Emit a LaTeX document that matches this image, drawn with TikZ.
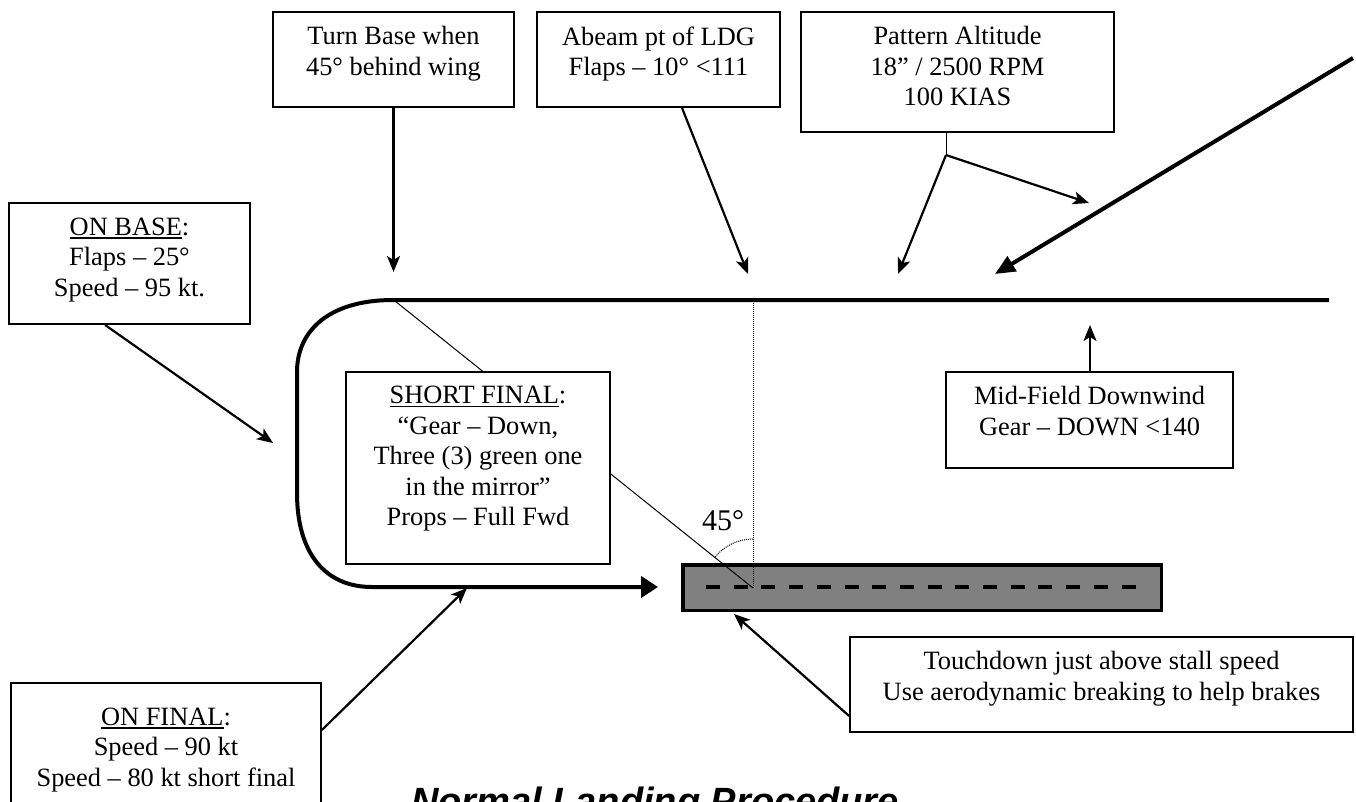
\documentclass[tikz,border=0pt]{standalone}
\usepackage{fontspec}
\setmainfont{Liberation Serif}
\newfontfamily\titlefont{Liberation Sans}
\usetikzlibrary{arrows.meta}
\definecolor{rwgray}{RGB}{128,128,128}
\newcommand\myul[1]{\setbox0\hbox{#1}\rlap{\rule[-3.5pt]{\wd0}{1.8pt}}\box0}
\tikzset{
  lbl/.style={draw, line width=1.8pt, fill=white, align=center, inner sep=0pt,
    font=\fontsize{26.4}{30.4}\selectfont,
    execute at begin node={\rule{0pt}{22pt}},
    execute at end node={\rule[-#1pt]{0pt}{0pt}}},
  conn/.style={line width=2.2pt, -{Stealth[length=16pt,width=13pt,inset=4pt]}},
  thin/.style={line width=1pt},
  dotln/.style={line width=1pt, dash pattern=on 1pt off 1pt},
  pathln/.style={line width=4pt, line join=round}
}
\begin{document}
\begin{tikzpicture}[x=1pt,y=-1pt]
\useasboundingbox (0,0) rectangle (1356,801);
\clip (0,0) rectangle (1356,801);
\fill[white] (0,0) rectangle (1356,801);

% runway
\node[draw, line width=3.5pt, fill=rwgray, minimum width=478.5pt, minimum height=45.5pt, inner sep=0pt] (rw) at (922,587.5) {};
\coordinate (rwd1) at (706,587);
\coordinate (rwd2) at (1137,587);
\draw[line width=4pt, dash pattern=on 14pt off 13.7pt] (rwd1) -- (rwd2);

% traffic pattern
\coordinate (dwE) at (1329,300);
\coordinate (dwW) at (393,300);
\coordinate (fT) at (658,587);
\draw[pathln, -{Triangle[length=17pt,width=21pt]}] (dwE) -- (dwW)
  .. controls (330,300) and (297,330) .. (297,372) -- (297,493)
  .. controls (297,553) and (325,587) .. (372,587) -- (fT);

% 45 degree geometry
\coordinate (tb) at (395,301);
\coordinate (tc) at (753,588);
\coordinate (ab) at (753,300);
\draw[thin] (tb) -- (tc);
\draw[dotln] (tc) -- (ab);
\draw[dotln] ([yshift=49pt]tc) arc[start angle=90, end angle=141.4, radius=49pt];
\node[anchor=base, inner sep=0pt, font=\fontsize{30}{34}\selectfont] (ang) at (723,530) {45°};

% boxes
\node[lbl=17, minimum width=241pt, minimum height=95pt] (turn) at (393.5,59.5)
  {Turn Base when\\45° behind wing};
\node[lbl=17, minimum width=243pt, minimum height=95pt] (abeam) at (658.5,59.5)
  {Abeam pt of LDG\\Flaps – 10° <111};
\node[lbl=12, minimum width=313pt, minimum height=120pt] (pattern) at (957.5,72)
  {Pattern Altitude\\18” / 2500 RPM\\100 KIAS};
\node[lbl=13, minimum width=241pt, minimum height=121pt] (onbase) at (129.5,263.5)
  {\myul{ON BASE}:\\Flaps – 25°\\Speed – 95 kt.};
\node[lbl=24, minimum width=264pt, minimum height=192pt] (short) at (478,468)
  {\myul{SHORT FINAL}:\\“Gear – Down,\\Three (3) green one\\in the mirror”\\Props – Full Fwd};
\node[lbl=18, minimum width=287pt, minimum height=96pt] (mid) at (1089.5,420)
  {Mid-Field Downwind\\Gear – DOWN <140};
\node[lbl=17, minimum width=503pt, minimum height=95pt] (touch) at (1101.5,684.5)
  {Touchdown just above stall speed\\Use aerodynamic breaking to help brakes};
\node[lbl=19, minimum width=310pt, minimum height=147pt] (onfinal) at (166,756.5)
  {\myul{ON FINAL}:\\Speed – 90 kt\\Speed – 80 kt short final};

% connectors
\coordinate (tbT) at (393.5,272);
\draw[conn] (turn.south) -- (tbT);
\coordinate (abT) at (748,274);
\draw[conn] ([xshift=23.5pt]abeam.south) -- (abT);
\coordinate (pB) at (946,155);
\coordinate (pL) at (898,274);
\coordinate (pR) at (1089,203);
\draw[thin] ([xshift=-11.5pt]pattern.south) -- (pB);
\draw[conn] (pB) -- (pL);
\draw[conn] (pB) -- (pR);
\coordinate (bigS) at (1353,58);
\coordinate (bigT) at (995,274);
\draw[line width=4pt, -{Triangle[length=20pt,width=17pt]}] (bigS) -- (bigT);
\coordinate (obT) at (273,443);
\draw[conn] ([xshift=-24.5pt]onbase.south) -- (obT);
\coordinate (mfT) at (1090,325);
\draw[conn] ([xshift=0.5pt]mid.north) -- (mfT);
\coordinate (tdT) at (734,614);
\draw[conn] ([yshift=-31.5pt]touch.west) -- (tdT);
\coordinate (ofT) at (467,588);
\draw[conn] ([yshift=26.5pt]onfinal.east) -- (ofT);

% title
\node[anchor=base, inner sep=0pt, font=\titlefont\bfseries\itshape\fontsize{38}{44}\selectfont] (title) at (655,814) {Normal Landing Procedure};
\end{tikzpicture}
\end{document}
